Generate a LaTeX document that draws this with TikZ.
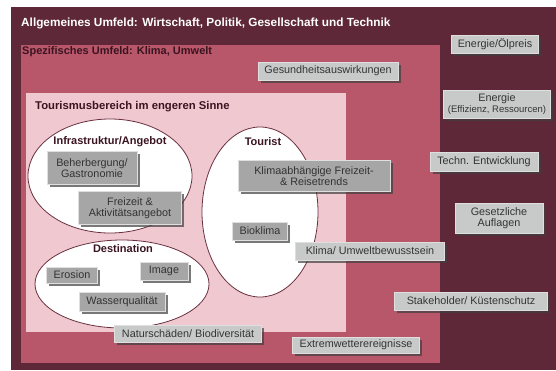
\documentclass[tikz,border=0pt]{standalone}
\usepackage{fontspec}
\setmainfont{Liberation Sans}
\usetikzlibrary{shadows}
\definecolor{aussen}{HTML}{5E2838}
\definecolor{mitte}{HTML}{B8566A}
\definecolor{innen}{HTML}{F0C8D0}
\definecolor{rand}{HTML}{6A3040}
\definecolor{hell}{HTML}{C8CACA}
\definecolor{dunkel}{HTML}{A6A6A6}
\definecolor{schrift}{HTML}{3A1420}
\tikzset{
    box/.style={draw=white!75!gray, line width=0.4pt, fill=hell, inner sep=0pt, align=center,
        text=black!80, font=\fontsize{10.8}{11.5}\selectfont,
        drop shadow={shadow xshift=2.5pt, shadow yshift=-2.5pt, fill=black!75, opacity=0.7}},
    ibox/.style={box, fill=dunkel},
    titel/.style={font=\bfseries\fontsize{11}{13}\selectfont, inner sep=0pt, text=schrift},
}
\begin{document}
\begin{tikzpicture}[x=1pt, y=-1pt]
                \useasboundingbox (0,0) rectangle (556,370);
                \fill[aussen] (11,7) rectangle (556,370);
                \fill[mitte] (21,45) rectangle (440,363);
                \fill[innen] (26,93) rectangle (346,332);
                \draw[rand, fill=white, line width=0.8pt] (110,176) ellipse (82 and 57);
                \draw[rand, fill=white, line width=0.8pt] (260,212) ellipse (58 and 85);
                \draw[rand, fill=white, line width=0.8pt] (122,284) ellipse (87 and 44);
                \node[titel, anchor=west, text=white, font=\bfseries\fontsize{11.8}{13}\selectfont] (allg) at (21,23) {Allgemeines Umfeld: Wirtschaft, Politik, Gesellschaft und Technik};
                \node[titel, anchor=west] (spez) at (22,52) {Spezifisches Umfeld: Klima, Umwelt};
                \node[titel, anchor=west, font=\bfseries\fontsize{11.3}{13}\selectfont] (tour) at (35,107) {Tourismusbereich im engeren Sinne};
                \node[titel] (infra) at (110,142) {Infrastruktur/Angebot};
                \node[titel] (tourist) at (263,142) {Tourist};
                \node[titel] (dest) at (123,249) {Destination};
                \node[box, minimum width=140, minimum height=18] (gesund) at (328,71) {Gesundheitsauswirkungen};
                \node[box, minimum width=87, minimum height=18] (oel) at (495,44) {Energie/Ölpreis};
                \node[box, minimum width=107, minimum height=28] (eff) at (497,104) {Energie\\{\fontsize{9.5}{10}\selectfont(Effizienz, Ressourcen)}};
                \node[box, minimum width=108, minimum height=19] (techn) at (484,162) {Techn. Entwicklung};
                \node[box, minimum width=88, minimum height=30] (gesetz) at (499,218) {Gesetzliche\\Auflagen};
                \node[box, minimum width=153, minimum height=18] (stake) at (471,301) {Stakeholder/ Küstenschutz};
                \node[box, minimum width=149, minimum height=18] (bewusst) at (370,251) {Klima/ Umweltbewusstsein};
                \node[box, minimum width=127, minimum height=16] (extrem) at (356,345) {Extremwetterereignisse};
                \node[box, minimum width=147, minimum height=17] (natur) at (188,334) {Naturschäden/ Biodiversität};
                \node[ibox, minimum width=90, minimum height=33] (beher) at (92,168) {Beherbergung/\\Gastronomie};
                \node[ibox, minimum width=103, minimum height=33] (freizeit) at (130,208) {Freizeit \&\\Aktivitätsangebot};
                \node[ibox, minimum width=152, minimum height=31] (trends) at (314,176) {Klimaabhängige Freizeit-\\\& Reisetrends};
                \node[ibox, minimum width=55, minimum height=18] (bio) at (260,231) {Bioklima};
                \node[ibox, minimum width=51, minimum height=16] (erosion) at (72,275) {Erosion};
                \node[ibox, minimum width=48, minimum height=18] (image) at (164,271) {Image};
                \node[ibox, minimum width=86, minimum height=19] (wasser) at (122,302) {Wasserqualität};
\end{tikzpicture}
\end{document}
